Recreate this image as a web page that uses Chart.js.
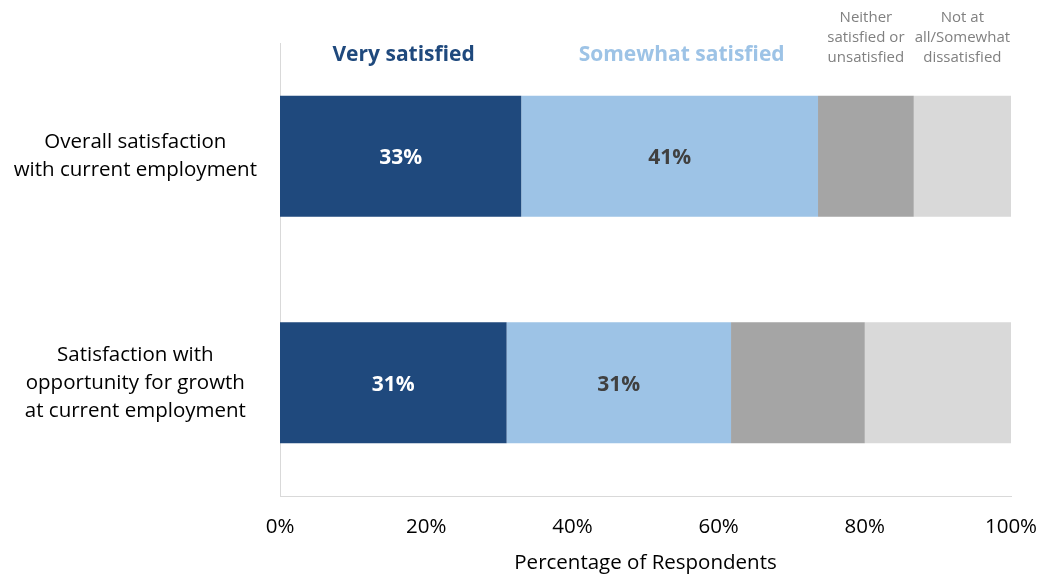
<!DOCTYPE html>
<html>
<head>
<meta charset="utf-8">
<script src="https://cdn.jsdelivr.net/npm/chart.js@4.4.1/dist/chart.umd.min.js"></script>
<style>
  html, body { margin: 0; padding: 0; background: #fff; }
  #wrap { width: 1039px; height: 575px; }
</style>
</head>
<body>
<div id="wrap"><canvas id="chart"></canvas></div>
<script>
const categories = [
  ["Overall satisfaction", "with current employment"],
  ["Satisfaction with", "opportunity for growth", "at current employment"]
];
const seriesNames = ["Very satisfied", "Somewhat satisfied", "Neither satisfied or unsatisfied", "Not at all/Somewhat dissatisfied"];
const verySatisfied = [33, 31];
const somewhatSatisfied = [40.6, 30.7];
const neither = [13.1, 18.3];
const dissatisfied = [13.3, 20];
const xTicks = [0, 20, 40, 60, 80, 100];

const FONT = '"Open Sans", sans-serif';
const colors = ["#1F497D", "#9DC3E6", "#A5A5A5", "#D9D9D9"];

// headers over the columns, lines of text for each series
const headerLines = [
  ["Very satisfied"],
  ["Somewhat satisfied"],
  ["Neither", "satisfied or", "unsatisfied"],
  ["Not at", "all/Somewhat", "dissatisfied"]
];

const labelsPlugin = {
  id: "segLabels",
  afterDatasetsDraw(chart) {
    const { ctx } = chart;
    ctx.save();
    ctx.textAlign = "center";
    ctx.textBaseline = "middle";
    // value labels inside first two series
    [0, 1].forEach(di => {
      const meta = chart.getDatasetMeta(di);
      meta.data.forEach((bar, i) => {
        const v = chart.data.datasets[di].data[i];
        ctx.font = "bold 21px " + FONT;
        ctx.fillStyle = di === 0 ? "#ffffff" : "#404040";
        ctx.fillText(Math.round(v) + "%", (bar.x + bar.base) / 2, bar.y + 2);
      });
    });
    // column headers above the first bar
    chart.data.datasets.forEach((ds, di) => {
      const bar = chart.getDatasetMeta(di).data[0];
      const cx = (bar.x + bar.base) / 2;
      const lines = headerLines[di];
      if (di < 2) {
        ctx.font = "bold 21px " + FONT;
        ctx.fillStyle = colors[di];
        ctx.fillText(lines[0], cx + (di === 1 ? 12 : 3), 55);
      } else {
        ctx.font = "15px " + FONT;
        ctx.fillStyle = "#808080";
        lines.forEach((t, k) => ctx.fillText(t, cx, 18 + k * 20));
      }
    });
    ctx.restore();
  }
};

new Chart(document.getElementById("chart"), {
  type: "bar",
  data: {
    labels: categories,
    datasets: [
      { label: seriesNames[0], data: verySatisfied, backgroundColor: colors[0] },
      { label: seriesNames[1], data: somewhatSatisfied, backgroundColor: colors[1] },
      { label: seriesNames[2], data: neither, backgroundColor: colors[2] },
      { label: seriesNames[3], data: dissatisfied, backgroundColor: colors[3] }
    ]
  },
  options: {
    indexAxis: "y",
    responsive: true,
    maintainAspectRatio: false,
    animation: false,
    layout: { padding: { top: 43, right: 28, bottom: 0, left: 0 } },
    datasets: { bar: { barPercentage: 0.535, categoryPercentage: 1, borderWidth: 0 } },
    plugins: { legend: { display: false }, tooltip: { enabled: false } },
    scales: {
      x: {
        stacked: true,
        min: 0,
        max: 100,
        afterBuildTicks(scale) { scale.ticks = xTicks.map(v => ({ value: v })); },
        afterFit(scale) {
          scale.height = 79;
          scale.paddingLeft = 0;
          scale.paddingRight = 0;
        },
        grid: { display: false, drawTicks: false },
        border: { display: true, color: "#D9D9D9", width: 1 },
        ticks: {
          padding: 19,
          color: "#000",
          font: { family: FONT, size: 20.5 },
          maxRotation: 0,
          callback: v => v + "%"
        },
        title: {
          display: true,
          text: "Percentage of Respondents",
          color: "#000",
          font: { family: FONT, size: 20.5 },
          padding: { top: 11, bottom: 0 }
        }
      },
      y: {
        stacked: true,
        afterFit(scale) {
          scale.width = 280;
          scale.paddingTop = 0;
          scale.paddingBottom = 0;
        },
        grid: { display: false, drawTicks: false },
        border: { display: true, color: "#D9D9D9", width: 1 },
        ticks: {
          padding: 23,
          crossAlign: "center",
          color: "#000",
          font: { family: FONT, size: 20.5, lineHeight: 1.37 }
        }
      }
    }
  },
  plugins: [labelsPlugin]
});
</script>
</body>
</html>
